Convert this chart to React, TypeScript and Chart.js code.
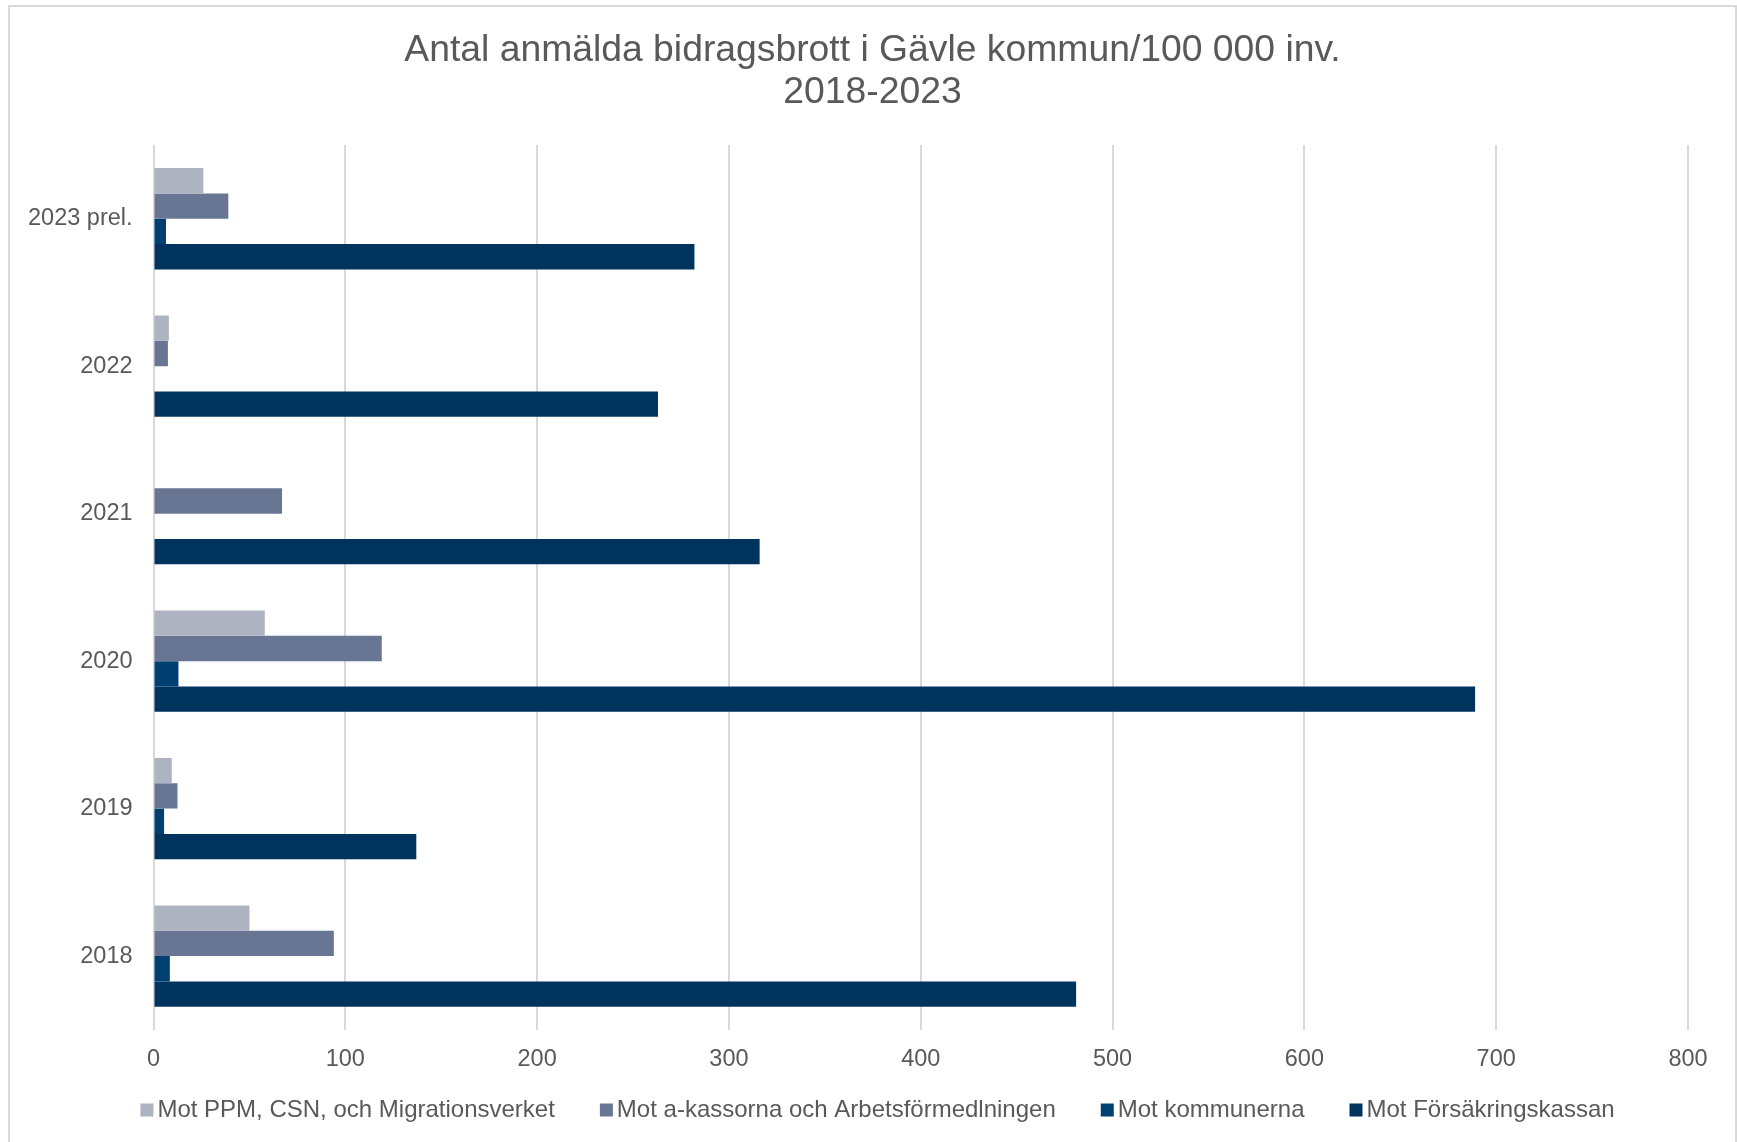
import React, { useEffect, useRef } from 'react';
import { Chart, registerables } from 'chart.js';

Chart.register(...registerables);

const titleLines = ['Antal anmälda bidragsbrott i Gävle kommun/100 000 inv.', '2018-2023'];
const categories = ['2023 prel.', '2022', '2021', '2020', '2019', '2018'];
const seriesNames = [
  'Mot PPM, CSN, och Migrationsverket',
  'Mot a-kassorna och Arbetsförmedlningen',
  'Mot kommunerna',
  'Mot Försäkringskassan',
];
const ppmValues = [26, 8, 0, 58, 9.5, 50];
const akassaValues = [39, 7.5, 67, 119, 12.5, 94];
const kommunValues = [6.5, 0, 0, 13, 5.5, 8.5];
const fkValues = [282, 263, 316, 689, 137, 481];
const seriesColors = ['#adb3c1', '#687694', '#003f72', '#00335e'];
const xMin = 0;
const xMax = 800;
const xStep = 100;

const FONT = '"Liberation Sans", Arial, sans-serif';
const TEXT_COLOR = '#595959';
const GRID_COLOR = '#d9d9d9';

const framePlugin = {
  id: 'frame',
  beforeDraw(chart: any) {
    const ctx = chart.ctx;
    ctx.save();
    ctx.fillStyle = '#ffffff';
    ctx.fillRect(0, 0, chart.width, chart.height);
    ctx.strokeStyle = GRID_COLOR;
    ctx.lineWidth = 2;
    ctx.strokeRect(9, 6, 1727, 1200);
    ctx.restore();
  },
};

const titlePlugin = {
  id: 'customTitle',
  afterDraw(chart: any) {
    const ctx = chart.ctx;
    ctx.save();
    ctx.font = `37.3px ${FONT}`;
    ctx.fillStyle = TEXT_COLOR;
    ctx.textAlign = 'center';
    ctx.textBaseline = 'middle';
    const cx = chart.width / 2 + 4;
    titleLines.forEach((line, i) => {
      ctx.fillText(line, cx, 51 + i * 42);
    });
    ctx.restore();
  },
};

const legendPlugin = {
  id: 'customLegend',
  afterDraw(chart: any) {
    const ctx = chart.ctx;
    ctx.save();
    ctx.font = `24px ${FONT}`;
    const box = 13;
    const gapText = 4;
    const gapItem = 45;
    const ds = chart.data.datasets;
    const widths = ds.map((d: any) => ctx.measureText(d.label).width);
    const total =
      widths.reduce((s: number, w: number) => s + box + gapText + w, 0) + gapItem * (widths.length - 1);
    let x = chart.width / 2 + 9 - total / 2;
    const y = chart.height - 32;
    ds.forEach((d: any, i: number) => {
      ctx.fillStyle = d.backgroundColor;
      ctx.fillRect(x, y - box / 2, box, box);
      ctx.fillStyle = TEXT_COLOR;
      ctx.textBaseline = 'middle';
      ctx.textAlign = 'left';
      ctx.fillText(d.label, x + box + gapText, y);
      x += box + gapText + widths[i] + gapItem;
    });
    ctx.restore();
  },
};

export default function App() {
  const canvasRef = useRef<HTMLCanvasElement | null>(null);

  useEffect(() => {
    if (!canvasRef.current) return;
    const values = [ppmValues, akassaValues, kommunValues, fkValues];
    const chart = new Chart(canvasRef.current, {
      type: 'bar',
      data: {
        labels: categories,
        datasets: seriesNames.map((name, i) => ({
          label: name,
          data: values[i],
          backgroundColor: seriesColors[i],
          borderWidth: 0,
          categoryPercentage: 0.687,
          barPercentage: 1.0,
        })),
      },
      options: {
        indexAxis: 'y',
        animation: false,
        responsive: true,
        maintainAspectRatio: false,
        layout: { padding: { left: 7, right: 49, top: 145, bottom: 52 } },
        plugins: {
          legend: { display: false },
          tooltip: { enabled: false },
          title: { display: false },
        },
        scales: {
          x: {
            type: 'linear',
            position: 'bottom',
            min: xMin,
            max: xMax,
            ticks: {
              stepSize: xStep,
              color: TEXT_COLOR,
              font: { family: FONT, size: 23.5 },
              padding: 16,
            },
            grid: { color: GRID_COLOR, lineWidth: 2, drawTicks: false },
            border: { display: false },
          },
          y: {
            type: 'category',
            ticks: {
              color: TEXT_COLOR,
              font: { family: FONT, size: 23.5 },
              padding: 21,
            },
            grid: { display: false, drawTicks: false },
            border: { display: false },
          },
        },
      },
      plugins: [framePlugin, titlePlugin, legendPlugin],
    });
    return () => chart.destroy();
  }, []);

  return (
    <div style={{ position: 'absolute', left: 0, top: 0, width: 1737, height: 1142 }}>
      <canvas ref={canvasRef} />
    </div>
  );
}
